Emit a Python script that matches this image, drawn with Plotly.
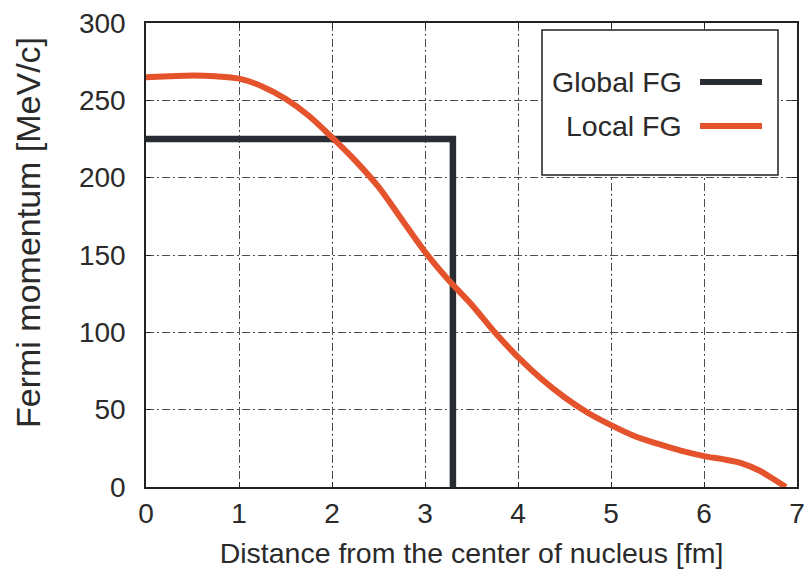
import plotly.graph_objects as go

# ---- data ----
global_r = [0.0, 3.3, 3.3]
global_kf = [225, 225, 0]

local_r = [0, 0.25, 0.5, 0.75, 1.0, 1.25, 1.5, 1.75, 2.0, 2.25, 2.5, 2.75, 3.0,
           3.25, 3.5, 3.75, 4.0, 4.25, 4.5, 4.75, 5.0, 5.25, 5.5, 5.75, 6.0,
           6.2, 6.4, 6.6, 6.75, 6.88]
local_kf = [265, 265.5, 266, 265.5, 264, 259, 251, 240, 226, 211, 194, 173, 152,
            134, 118, 100, 84, 70, 58, 48, 40, 33, 28, 23.5, 20,
            18, 15.5, 10.5, 5, 0]

x_ticks = [0, 1, 2, 3, 4, 5, 6, 7]
y_ticks = [0, 50, 100, 150, 200, 250, 300]

DARK = "#272d33"
ORANGE = "#e4532b"
FONT = "Liberation Sans, Arial, sans-serif"
TXT = "#2a2a2a"

W, H = 809, 576
L, R, T, B = 146, 12, 23, 89
pw, ph = W - L - R, H - T - B


def px(x):
    return (x - L) / pw


def py(y):
    return (H - B - y) / ph


fig = go.Figure()
fig.add_trace(go.Scatter(x=global_r, y=global_kf, mode="lines", name="Global FG",
                         line=dict(color=DARK, width=6.5), showlegend=False))
fig.add_trace(go.Scatter(x=local_r, y=local_kf, mode="lines", name="Local FG",
                         line=dict(color=ORANGE, width=6, shape="spline", smoothing=0.8),
                         showlegend=False))

axis_common = dict(showline=True, linecolor="#222", linewidth=1.5, mirror="ticks",
                   showgrid=True, gridcolor="#4a4f55", gridwidth=1,
                   griddash="8px,3px,2px,3px", zeroline=False,
                   ticks="inside", ticklen=5, tickcolor="#222", automargin=False,
                   tickfont=dict(family=FONT, size=28, color=TXT))

fig.update_xaxes(range=[0, 7], tickvals=x_ticks, ticklabelstandoff=1,
                 title=dict(text="Distance from the center of nucleus [fm]",
                            font=dict(family=FONT, size=28.5, color=TXT), standoff=15),
                 **axis_common)
fig.update_yaxes(range=[0, 300], tickvals=y_ticks, ticklabelstandoff=13,
                 **axis_common)

# legend box drawn manually (gnuplot style: text left, sample right)
shapes = [
    dict(type="rect", xref="paper", yref="paper", x0=px(542), x1=px(778),
         y0=py(175), y1=py(30), line=dict(color="#222", width=1.5),
         fillcolor="white", layer="above"),
    dict(type="line", xref="paper", yref="paper", x0=px(700), x1=px(762),
         y0=py(82), y1=py(82), line=dict(color=DARK, width=6), layer="above"),
    dict(type="line", xref="paper", yref="paper", x0=px(700), x1=px(762),
         y0=py(126), y1=py(126), line=dict(color=ORANGE, width=6), layer="above"),
]
annotations = [
    dict(text="Fermi momentum [MeV/c]", xref="paper", yref="paper",
         x=px(28), y=py(233), xanchor="center", yanchor="middle", textangle=-90,
         showarrow=False, font=dict(family=FONT, size=34, color=TXT)),
    dict(text="Global FG", xref="paper", yref="paper", x=px(684), y=py(82),
         xanchor="right", yanchor="middle", showarrow=False,
         font=dict(family=FONT, size=28.5, color=TXT)),
    dict(text="Local FG", xref="paper", yref="paper", x=px(684), y=py(126),
         xanchor="right", yanchor="middle", showarrow=False,
         font=dict(family=FONT, size=28.5, color=TXT)),
]

fig.update_layout(width=W, height=H, margin=dict(l=L, r=R, t=T, b=B),
                  paper_bgcolor="white", plot_bgcolor="white",
                  shapes=shapes, annotations=annotations, showlegend=False)

fig.write_html("out.html")
